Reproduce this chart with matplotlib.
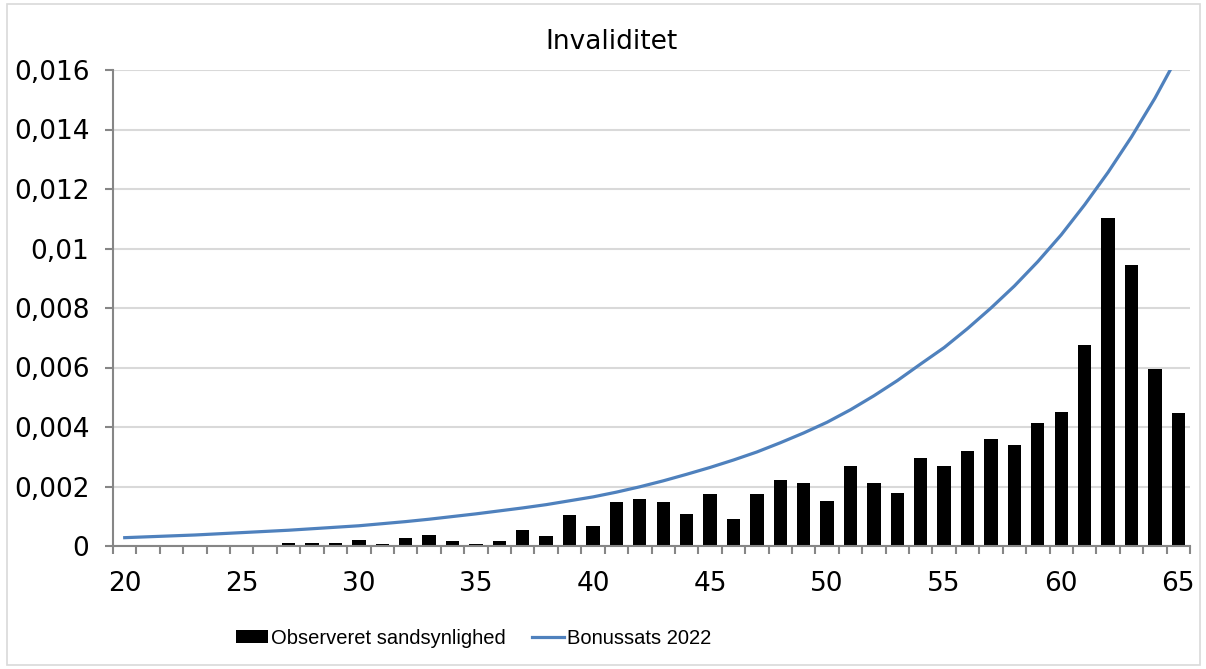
import numpy as np
import matplotlib
matplotlib.use("Agg")
import matplotlib.pyplot as plt
from matplotlib.patches import Rectangle

# ages on the category axis
ages = list(range(20, 66))

# observed probability (bars), ages 27-65
bar_ages = list(range(27, 66))
observed = [0.0001, 0.0001, 0.0001, 0.0002, 0.00008, 0.00028, 0.00037, 0.00017, 0.00008,
            0.00016, 0.00055, 0.00034, 0.00105, 0.00066, 0.00147, 0.00159, 0.00149, 0.00106,
            0.00176, 0.00092, 0.00176, 0.00221, 0.00211, 0.0015, 0.00268, 0.00212, 0.00178,
            0.00297, 0.00269, 0.00319, 0.00361, 0.0034, 0.00415, 0.00449, 0.00675, 0.01104,
            0.00945, 0.00594, 0.00446]

# bonus rate 2022 (line), ages 20-65
bonus = [0.00028, 0.00031, 0.00034, 0.00037, 0.00041, 0.00045,
         0.00049, 0.00053, 0.00058, 0.00063, 0.00068,
         0.00075, 0.00082, 0.0009, 0.00099, 0.00108,
         0.00118, 0.00128, 0.00139, 0.00152, 0.00165,
         0.00181, 0.00199, 0.00219, 0.00241, 0.00264,
         0.00289, 0.00316, 0.00347, 0.0038, 0.00416,
         0.00458, 0.00505, 0.00556, 0.00612, 0.00667,
         0.00731, 0.008, 0.00874, 0.00956, 0.01046,
         0.01147, 0.01256, 0.01375, 0.01505, 0.0165]

y_ticks = [0, 0.002, 0.004, 0.006, 0.008, 0.01, 0.012, 0.014, 0.016]
y_labels = ["0", "0,002", "0,004", "0,006", "0,008", "0,01", "0,012", "0,014", "0,016"]
x_labels = [20, 25, 30, 35, 40, 45, 50, 55, 60, 65]

W, H = 1206, 669
fig = plt.figure(figsize=(W / 100, H / 100), dpi=100)
ax = fig.add_axes([113 / W, 1 - 546 / H, (1190 - 113) / W, (546 - 70) / H])

bars = ax.bar(bar_ages, observed, width=0.57, color="black", zorder=2)
line, = ax.plot(ages, bonus, color="#4f81bd", lw=2.3, zorder=3)

ax.set_xlim(19.5, 65.5)
ax.set_ylim(0, 0.016)

ax.set_yticks(y_ticks)
ax.set_yticklabels(y_labels)
ax.set_xticks(x_labels)
ax.set_xticklabels([str(v) for v in x_labels])
ax.set_xticks(np.arange(19.5, 66, 1), minor=True)

ax.grid(axis="y", color="#d9d9d9", lw=1.5, zorder=0)
ax.set_axisbelow(True)

for s in ["top", "right"]:
    ax.spines[s].set_visible(False)
for s in ["left", "bottom"]:
    ax.spines[s].set_color("#868686")
    ax.spines[s].set_linewidth(1.5)

ax.tick_params(axis="y", length=6, width=1.5, color="#868686", pad=11, labelsize=19)
ax.tick_params(axis="x", which="major", length=0, pad=18, labelsize=19)
ax.tick_params(axis="x", which="minor", length=6, width=1.5, color="#868686")

fig.text(612 / W, 1 - 42 / H, "Invaliditet", ha="center", va="center", fontsize=19)

fig.legend([bars, line], ["Observeret sandsynlighed", "Bonussats 2022"],
           loc="center left", bbox_to_anchor=(236 / W, 1 - 638 / H),
           bbox_transform=fig.transFigure, ncol=2, frameon=False,
           borderpad=0, borderaxespad=0, handlelength=1.6,
           handleheight=0.65, handletextpad=0.15, columnspacing=1.3,
           prop={"family": "Liberation Sans", "size": 14.5})

fig.add_artist(Rectangle((7 / W, 4 / H), (1200 - 7) / W, (665 - 4) / H,
                         transform=fig.transFigure, fill=False,
                         edgecolor="#d9d9d9", lw=1.2))

fig.savefig("out.png", dpi=100)
